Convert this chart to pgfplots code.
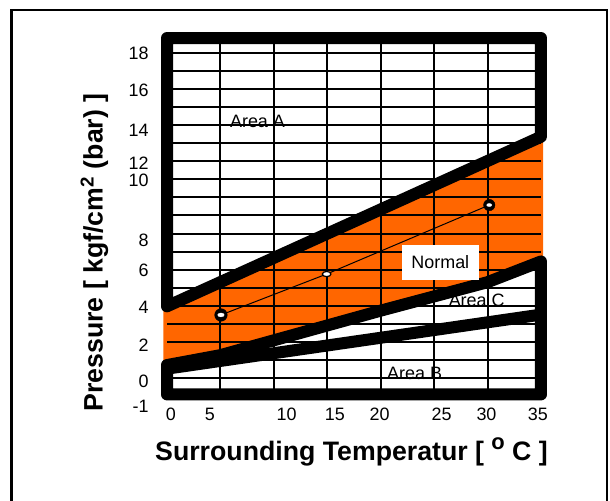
\documentclass[border=0pt]{standalone}
\usepackage{fontspec}
\setmainfont{Liberation Sans}
\usepackage{pgfplots}
\pgfplotsset{compat=1.18}
\definecolor{org}{HTML}{FF6600}

% flat ellipse mark, x radius = mark size
\pgfdeclareplotmark{ell}{%
  \pgfpathellipse{\pgfpointorigin}{\pgfqpoint{\pgfplotmarksize}{0pt}}{\pgfqpoint{0pt}{0.6\pgfplotmarksize}}%
  \pgfusepathqfillstroke}

\begin{document}
\begin{tikzpicture}
\begin{axis}[
  set layers=standard,
  x=10.686bp, y=18.02bp,
  xmin=0, xmax=35, ymin=-0.93, ymax=18.85,
  clip=false,
  axis line style={draw=none},
  major tick length=0pt, minor tick length=0pt,
  xtick={0.35,4.0,11.2,15.7,19.9,25.7,29.9,34.7},
  xticklabels={0,5,10,15,20,25,30,35},
  ytick={18.02,15.95,13.7,11.9,10.93,7.64,5.97,3.93,1.81,-0.22,-0.93},
  yticklabels={18,16,14,12,10,8,6,4,2,0,\raisebox{-18.5bp}[0pt][0pt]{-1}},
  minor xtick={5,10,15,20,25,30},
  minor ytick={0,1,2,3,4,5,6,7,8,9,10,11,12,13,14,15,16,17,18},
  xmajorgrids=false, ymajorgrids=false, xminorgrids=true, yminorgrids=true,
  minor grid style={black, line width=2bp},
  tick label style={font=\fontsize{18}{18}\selectfont},
  yticklabel style={xshift=-15bp},
  xticklabel style={yshift=-10bp},
]
% normal band
\addplot[fill=org, draw=none, on layer=axis background] coordinates
  {(-0.35,3.87) (35.21,13.43) (35.21,6.5) (30,5.3) (20,3.72) (5,1.25) (-0.35,0.65)};

% area borders
\addplot[black, line width=12bp, line join=round, line cap=round] coordinates
  {(0,3.96) (0,18.85) (35,18.85) (35,13.37) (0,3.96)};
\addplot[black, line width=12bp, line join=round, line cap=round] coordinates
  {(0,0.7) (0,-0.93) (35,-0.93) (35,6.45) (30,5.3) (20,3.72) (5,1.25) (0,0.7)};
\addplot[black, line width=12bp, line join=round, line cap=round] coordinates
  {(0,0.5) (35,3.5)};

% measured points
\addplot[black, line width=1bp, mark=none] coordinates
  {(5.05,3.48) (14.94,5.75) (30.16,9.58)};
\addplot[only marks, mark=*, mark size=6.3bp, black] coordinates {(5.05,3.48)};
\addplot[only marks, mark=*, mark size=5.7bp, black] coordinates {(30.16,9.58)};
\addplot[only marks, mark=ell, mark size=3.3bp, mark options={fill=white, draw=white, line width=0.3bp}] coordinates {(5.05,3.48)};
\addplot[only marks, mark=ell, mark size=2.6bp, mark options={fill=white, draw=white, line width=0.3bp}] coordinates {(30.16,9.58)};
\addplot[only marks, mark=ell, mark size=4.3bp, mark options={fill=white, draw=black, line width=1.2bp}] coordinates {(14.94,5.75)};

\node[font=\fontsize{18}{18}\selectfont] at (axis cs:8.47,14.22) {Area A};
\node[font=\fontsize{18}{18}\selectfont] at (axis cs:28.98,4.31) {Area C};
\node[font=\fontsize{18}{18}\selectfont] at (axis cs:23.17,0.24) {Area B};
\node[font=\fontsize{18}{18}\selectfont, fill=white, minimum width=77bp, minimum height=35bp, inner sep=0pt]
  at (axis cs:25.58,6.39) {Normal};

\node[rotate=90, font=\bfseries\fontsize{26.8}{26.8}\selectfont] at (axis cs:-6.8,6.95)
  {Pressure [ kgf/cm\textsuperscript{2} (bar) ]};
\node[font=\bfseries\fontsize{26.8}{26.8}\selectfont] at (axis cs:17.27,-4.1)
  {Surrounding Temperatur [ \raisebox{0.42em}{\fontsize{22}{22}\selectfont o} C ]};

\coordinate (pbl) at (axis cs:-15.63,-6.84);
\coordinate (ptr) at (axis cs:41.46,20.96);
\coordinate (fbl) at (axis cs:-14.55,-9);
\coordinate (ftr) at (axis cs:41.17,20.41);
\end{axis}
\pgfresetboundingbox
\path[use as bounding box] (pbl) rectangle (ptr);
\draw[line width=2.5bp] (fbl) rectangle (ftr);
\end{tikzpicture}
\end{document}
